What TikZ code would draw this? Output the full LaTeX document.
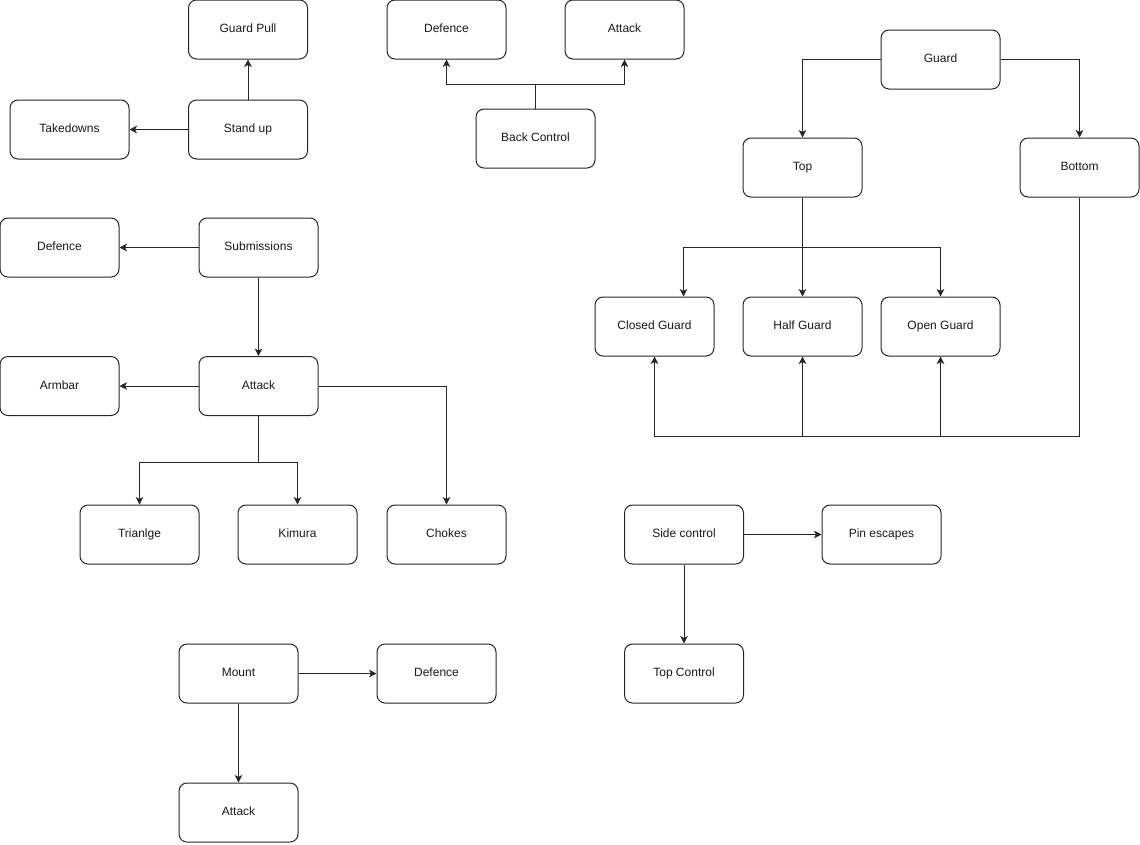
\documentclass[tikz,border=0pt]{standalone}
\usepackage{fontspec}
\setmainfont{Liberation Sans}
\usetikzlibrary{positioning}
\usetikzlibrary{arrows.meta}

\begin{document}
\begin{tikzpicture}[%
  >={Stealth[length=7.5pt,width=7.5pt,inset=2pt]},
  x=1pt, y=-1pt,
  box/.style={draw=black!85, line width=1pt, rounded corners=8pt,
    minimum width=119pt, minimum height=59pt, inner sep=0pt,
    text height=1.6ex, text depth=.35ex,
    font=\fontsize{12}{14}\selectfont, text=black!90},
  link/.style={draw=black!85, line width=1pt}
]

  \useasboundingbox (0,0) rectangle (1140,844);

  % standing
  \node[box] (guardpull) at (248, 29.5) {Guard Pull};
  \node[box] (standup) at (248, 129.5) {Stand up};
  \node[box] (takedowns) at (69.5, 129.5) {Takedowns};

  % back control
  \node[box] (bcdef) at (446.5, 29.5) {Defence};
  \node[box] (bcatt) at (624.5, 29.5) {Attack};
  \node[box] (backctrl) at (535.5, 138.5) {Back Control};

  % guard
  \node[box] (guard) at (940.5, 59.5) {Guard};
  \node[box] (top) at (802.5, 167.5) {Top};
  \node[box] (bottom) at (1079.5, 167.5) {Bottom};
  \node[box] (closed) at (654.5, 326.5) {Closed Guard};
  \node[box] (half) at (802.5, 326.5) {Half Guard};
  \node[box] (open) at (940.5, 326.5) {Open Guard};
  \coordinate (gbase) at (1079.5, 436);

  % submissions
  \node[box] (subdef) at (59.5, 247.5) {Defence};
  \node[box] (subs) at (258.5, 247.5) {Submissions};
  \node[box] (armbar) at (59.5, 386) {Armbar};
  \node[box] (subatt) at (258.5, 386) {Attack};
  \node[box] (triangle) at (139.5, 534.5) {Trianlge};
  \node[box] (kimura) at (297.5, 534.5) {Kimura};
  \node[box] (chokes) at (446.5, 534.5) {Chokes};

  % mount
  \node[box] (mount) at (238.5, 673.5) {Mount};
  \node[box] (mntdef) at (436.5, 673.5) {Defence};
  \node[box] (mntatt) at (238.5, 812.5) {Attack};

  % side control
  \node[box] (side) at (684, 534.5) {Side control};
  \node[box] (pin) at (881.5, 534.5) {Pin escapes};
  \node[box] (topctrl) at (684, 673.5) {Top Control};

  \draw[link,->] (standup) -- (guardpull);
  \draw[link,->] (standup) -- (takedowns);

  \draw[link,->] (backctrl.north) -- ++(0,-24) -| (bcdef);
  \draw[link,->] (backctrl.north) -- ++(0,-24) -| (bcatt);

  \draw[link,->] (guard) -| (top);
  \draw[link,->] (guard) -| (bottom);
  \draw[link,->] (top.south) -- ++(0,50) -| ([xshift=29pt]closed.north);
  \draw[link,->] (top) -- (half);
  \draw[link,->] (top.south) -- ++(0,50) -| (open);
  \draw[link,->] (bottom) -- (gbase) -| (closed);
  \draw[link,->] (gbase -| half) -- (half);
  \draw[link,->] (gbase -| open) -- (open);

  \draw[link,->] (subs) -- (subdef);
  \draw[link,->] (subs) -- (subatt);
  \draw[link,->] (subatt) -- (armbar);
  \draw[link,->] (subatt.south) -- ++(0,46) -| (triangle);
  \draw[link,->] (subatt.south) -- ++(0,46) -| (kimura);
  \draw[link,->] (subatt) -| (chokes);

  \draw[link,->] (mount) -- (mntdef);
  \draw[link,->] (mount) -- (mntatt);

  \draw[link,->] (side) -- (pin);
  \draw[link,->] (side) -- (topctrl);

\end{tikzpicture}
\end{document}
